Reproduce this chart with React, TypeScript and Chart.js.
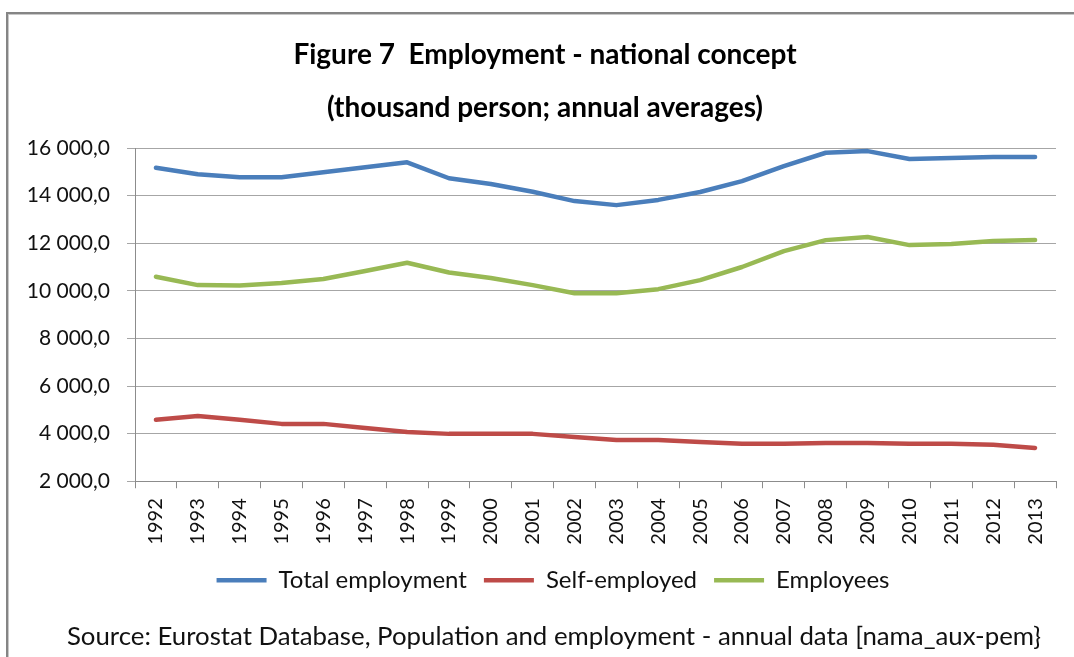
import React, { useEffect, useRef } from "react";
import { Chart, registerables } from "chart.js";

Chart.register(...registerables);

const years = ["1992", "1993", "1994", "1995", "1996", "1997", "1998", "1999", "2000", "2001", "2002", "2003", "2004", "2005", "2006", "2007", "2008", "2009", "2010", "2011", "2012", "2013"];
const totalEmployment = [15170, 14900, 14770, 14770, 14980, 15190, 15400, 14730, 14490, 14160, 13770, 13600, 13820, 14150, 14610, 15240, 15800, 15870, 15540, 15580, 15620, 15620];
const selfEmployed = [4580, 4740, 4580, 4410, 4410, 4240, 4070, 3990, 3990, 3990, 3860, 3730, 3730, 3650, 3570, 3570, 3610, 3610, 3570, 3570, 3530, 3400];
const employees = [10590, 10240, 10220, 10330, 10500, 10830, 11180, 10770, 10540, 10240, 9900, 9900, 10070, 10450, 11000, 11670, 12130, 12260, 11920, 11970, 12090, 12130];
const seriesNames = ["Total employment", "Self-employed", "Employees"];
const titleLines = ["Figure 7  Employment - national concept", "(thousand person; annual averages)"];
const sourceText = "Source: Eurostat Database, Population and employment - annual data [nama_aux-pem}";
const yMin = 2000;
const yMax = 16000;
const yStep = 2000;

const FONT = "Lato, 'Open Sans', sans-serif";

function fmt(v: number): string {
  const s = Math.round(v).toString().replace(/\B(?=(\d{3})+(?!\d))/g, " ");
  return s + ",0";
}

// Re-centres the title, legend and source line to match the original framing.
const shiftPlugin = {
  id: "shiftBoxes",
  afterLayout(chart: any) {
    chart.boxes.forEach((b: any) => {
      if (b === chart.titleBlock) {
        b.left += 26;
      } else if (b === chart.legend) {
        b.left += 42;
      } else if (b.options && b.options.text === sourceText) {
        b.left += 44;
      }
    });
  },
};

export default function App() {
  const ref = useRef<HTMLCanvasElement | null>(null);
  useEffect(() => {
    if (!ref.current) return;
    const mk = (label: string, data: number[], color: string) => ({
      label,
      data,
      borderColor: color,
      backgroundColor: color,
      borderWidth: 4.5,
      pointRadius: 0,
      pointHoverRadius: 0,
      pointStyle: "line" as const,
      tension: 0,
      fill: false,
      borderCapStyle: "round" as const,
      borderJoinStyle: "round" as const,
    });
    const chart = new Chart(ref.current, {
      type: "line",
      data: {
        labels: years,
        datasets: [
          mk(seriesNames[0], totalEmployment, "#4a7ebb"),
          mk(seriesNames[1], selfEmployed, "#be4b48"),
          mk(seriesNames[2], employees, "#98b954"),
        ],
      },
      plugins: [shiftPlugin],
      options: {
        responsive: false,
        animation: false,
        layout: { padding: { left: 8, right: 18, top: 0, bottom: 0 } },
        plugins: {
          title: {
            display: true,
            text: titleLines,
            color: "#000",
            font: { family: FONT, size: 28, weight: "bold", lineHeight: 1.893 },
            padding: { top: 28.5, bottom: 13.5 },
          },
          subtitle: {
            display: true,
            position: "bottom",
            text: sourceText,
            color: "#111",
            font: { family: FONT, size: 25.8, weight: "normal", lineHeight: 1.2 },
            padding: { top: 19.4, bottom: 4.4 },
          },
          legend: {
            display: true,
            position: "bottom",
            labels: {
              usePointStyle: true,
              pointStyleWidth: 50,
              boxHeight: 4,
              color: "#111",
              font: { family: FONT, size: 24 },
              padding: 17,
            },
          },
          tooltip: { enabled: false },
        },
        scales: {
          x: {
            offset: true,
            afterFit: (scale: any) => {
              scale.height = 70;
            },
            grid: {
              display: true,
              offset: true,
              drawOnChartArea: false,
              drawTicks: true,
              tickLength: 7,
              color: "#8c8c8c",
            },
            border: { display: true, color: "#8c8c8c", width: 1 },
            ticks: {
              color: "#111",
              font: { family: FONT, size: 20 },
              minRotation: 90,
              maxRotation: 90,
              autoSkip: false,
              padding: 10,
            },
          },
          y: {
            min: yMin,
            max: yMax,
            afterFit: (scale: any) => {
              scale.width = 127;
            },
            grid: {
              display: true,
              color: "#a6a6a6",
              drawTicks: true,
              tickLength: 8,
              lineWidth: 1,
            },
            border: { display: true, color: "#8c8c8c", width: 1 },
            ticks: {
              stepSize: yStep,
              color: "#111",
              font: { family: FONT, size: 21 },
              padding: 17,
              callback: (v: any) => fmt(Number(v)),
            },
          },
        },
      },
    });
    return () => chart.destroy();
  }, []);

  return (
    <div style={{ position: "absolute", left: 0, top: 0, width: 1074, height: 657, background: "#fff", overflow: "hidden" }}>
      <canvas ref={ref} width={1074} height={657} style={{ display: "block", position: "absolute", left: 0, top: 0 }} />
      <div
        style={{
          position: "absolute",
          left: 6,
          top: 12,
          width: 1100,
          height: 700,
          borderTop: "2px solid #858585",
          borderLeft: "2px solid #858585",
          boxShadow: "inset 1px 1px 0 #c8c8c8",
          pointerEvents: "none",
        }}
      />
    </div>
  );
}
